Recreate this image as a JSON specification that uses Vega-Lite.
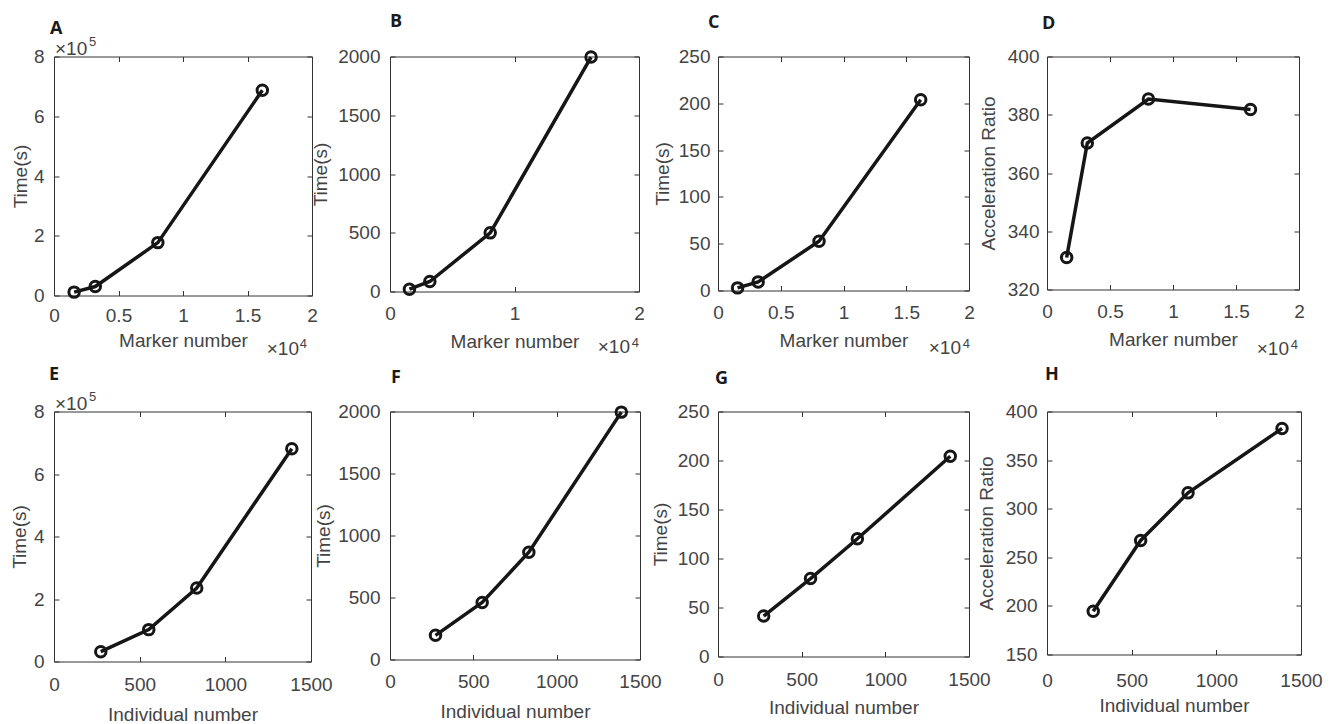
{
  "$schema": "https://vega.github.io/schema/vega-lite/v6.json",
  "padding": {"left": 9, "top": 12.5, "right": 0, "bottom": 0},
  "autosize": {"type": "pad"},
  "background": "white",
  "datasets": {
    "marker": [
      {"marker_number": 1560, "time_a": 11300, "time_b": 20, "time_c": 2.8, "accel_ratio": 331.0},
      {"marker_number": 3200, "time_a": 30000, "time_b": 85, "time_c": 9.2, "accel_ratio": 370.3},
      {"marker_number": 8050, "time_a": 177000, "time_b": 499, "time_c": 52.6, "accel_ratio": 385.4},
      {"marker_number": 16150, "time_a": 687000, "time_b": 1995, "time_c": 203.8, "accel_ratio": 381.8}
    ],
    "individual": [
      {"individual_number": 273, "time_e": 31400, "time_f": 195, "time_g": 41.3, "accel_ratio": 194.4},
      {"individual_number": 553, "time_e": 102000, "time_f": 460, "time_g": 79.5, "accel_ratio": 267.3},
      {"individual_number": 833, "time_e": 235000, "time_f": 865, "time_g": 120.1, "accel_ratio": 316.3},
      {"individual_number": 1388, "time_e": 681000, "time_f": 1995, "time_g": 204.3, "accel_ratio": 382.5}
    ]
  },
  "columns": 4,
  "bounds": "flush",
  "align": "none",
  "spacing": {"row": 116, "column": 78},
  "concat": [
    {
      "width": 258, "height": 239,
      "title": {"text": "A", "dx": -4, "offset": -2.5},
      "data": {"name": "marker"},
      "layer": [
        {"mark": {"type": "line", "color": "#161616", "strokeWidth": 3.5},
         "encoding": {
           "x": {"field": "marker_number", "type": "quantitative", "scale": {"domain": [0, 20000], "nice": false}, "axis": {"orient": "bottom", "values": [0, 5000, 10000, 15000, 20000], "labelExpr": "datum.value / 10000", "title": "Marker number", "labelPadding": 16, "titlePadding": 5.5}},
           "y": {"field": "time_a", "type": "quantitative", "scale": {"domain": [0, 800000], "nice": false}, "axis": {"orient": "left", "values": [0, 200000, 400000, 600000, 800000], "labelExpr": "datum.value / 100000", "title": "Time(s)", "labelPadding": 15, "titlePadding": 3}}}},
        {"mark": {"type": "point", "shape": "circle", "filled": false, "color": "#161616", "strokeWidth": 3, "size": 110, "opacity": 1},
         "encoding": {
           "x": {"field": "marker_number", "type": "quantitative", "scale": {"domain": [0, 20000], "nice": false}, "axis": {"orient": "top", "values": [0, 5000, 10000, 15000, 20000], "labels": false, "title": null}},
           "y": {"field": "time_a", "type": "quantitative", "scale": {"domain": [0, 800000], "nice": false}, "axis": {"orient": "right", "values": [0, 200000, 400000, 600000, 800000], "labels": false, "title": null}}}},
        {"data": {"values": [{}]},
         "mark": {"type": "text", "text": "×10", "align": "right", "baseline": "alphabetic", "dx": -13, "dy": 59, "fontSize": 19, "font": "Liberation Sans", "color": "#444"},
         "encoding": {"x": {"datum": 20000, "type": "quantitative", "axis": null}, "y": {"datum": 0, "type": "quantitative", "axis": null}}},
        {"data": {"values": [{}]},
         "mark": {"type": "text", "text": "4", "align": "right", "baseline": "alphabetic", "dx": -5, "dy": 52, "fontSize": 13, "font": "Liberation Sans", "color": "#444"},
         "encoding": {"x": {"datum": 20000, "type": "quantitative", "axis": null}, "y": {"datum": 0, "type": "quantitative", "axis": null}}},
        {"data": {"values": [{}]},
         "mark": {"type": "text", "text": "×10", "align": "left", "baseline": "alphabetic", "dx": 1, "dy": -2, "fontSize": 19, "font": "Liberation Sans", "color": "#444"},
         "encoding": {"x": {"datum": 0, "type": "quantitative", "axis": null}, "y": {"datum": 800000, "type": "quantitative", "axis": null}}},
        {"data": {"values": [{}]},
         "mark": {"type": "text", "text": "5", "align": "left", "baseline": "alphabetic", "dx": 35, "dy": -11, "fontSize": 13, "font": "Liberation Sans", "color": "#444"},
         "encoding": {"x": {"datum": 0, "type": "quantitative", "axis": null}, "y": {"datum": 800000, "type": "quantitative", "axis": null}}}
      ],
      "resolve": {"axis": {"x": "independent", "y": "independent"}}
    },
    {
      "width": 249, "height": 235,
      "title": {"text": "B", "dx": 0, "offset": 14.5},
      "data": {"name": "marker"},
      "layer": [
        {"mark": {"type": "line", "color": "#161616", "strokeWidth": 3.5},
         "encoding": {
           "x": {"field": "marker_number", "type": "quantitative", "scale": {"domain": [0, 20000], "nice": false}, "axis": {"orient": "bottom", "values": [0, 10000, 20000], "labelExpr": "datum.value / 10000", "title": "Marker number", "labelPadding": 17.5, "titlePadding": 9}},
           "y": {"field": "time_b", "type": "quantitative", "scale": {"domain": [0, 2000], "nice": false}, "axis": {"orient": "left", "values": [0, 500, 1000, 1500, 2000], "labelExpr": "datum.value", "title": "Time(s)", "labelPadding": 15, "titlePadding": 7}}}},
        {"mark": {"type": "point", "shape": "circle", "filled": false, "color": "#161616", "strokeWidth": 3, "size": 110, "opacity": 1},
         "encoding": {
           "x": {"field": "marker_number", "type": "quantitative", "scale": {"domain": [0, 20000], "nice": false}, "axis": {"orient": "top", "values": [0, 10000, 20000], "labels": false, "title": null}},
           "y": {"field": "time_b", "type": "quantitative", "scale": {"domain": [0, 2000], "nice": false}, "axis": {"orient": "right", "values": [0, 500, 1000, 1500, 2000], "labels": false, "title": null}}}},
        {"data": {"values": [{}]},
         "mark": {"type": "text", "text": "×10", "align": "right", "baseline": "alphabetic", "dx": -9, "dy": 61, "fontSize": 19, "font": "Liberation Sans", "color": "#444"},
         "encoding": {"x": {"datum": 20000, "type": "quantitative", "axis": null}, "y": {"datum": 0, "type": "quantitative", "axis": null}}},
        {"data": {"values": [{}]},
         "mark": {"type": "text", "text": "4", "align": "right", "baseline": "alphabetic", "dx": 0, "dy": 55, "fontSize": 13, "font": "Liberation Sans", "color": "#444"},
         "encoding": {"x": {"datum": 20000, "type": "quantitative", "axis": null}, "y": {"datum": 0, "type": "quantitative", "axis": null}}}
      ],
      "resolve": {"axis": {"x": "independent", "y": "independent"}}
    },
    {
      "width": 251, "height": 234,
      "title": {"text": "C", "dx": -10, "offset": 15.5},
      "data": {"name": "marker"},
      "layer": [
        {"mark": {"type": "line", "color": "#161616", "strokeWidth": 3.5},
         "encoding": {
           "x": {"field": "marker_number", "type": "quantitative", "scale": {"domain": [0, 20000], "nice": false}, "axis": {"orient": "bottom", "values": [0, 5000, 10000, 15000, 20000], "labelExpr": "datum.value / 10000", "title": "Marker number", "labelPadding": 18, "titlePadding": 9}},
           "y": {"field": "time_c", "type": "quantitative", "scale": {"domain": [0, 250], "nice": false}, "axis": {"orient": "left", "values": [0, 50, 100, 150, 200, 250], "labelExpr": "datum.value", "title": "Time(s)", "labelPadding": 13, "titlePadding": 6}}}},
        {"mark": {"type": "point", "shape": "circle", "filled": false, "color": "#161616", "strokeWidth": 3, "size": 110, "opacity": 1},
         "encoding": {
           "x": {"field": "marker_number", "type": "quantitative", "scale": {"domain": [0, 20000], "nice": false}, "axis": {"orient": "top", "values": [0, 5000, 10000, 15000, 20000], "labels": false, "title": null}},
           "y": {"field": "time_c", "type": "quantitative", "scale": {"domain": [0, 250], "nice": false}, "axis": {"orient": "right", "values": [0, 50, 100, 150, 200, 250], "labels": false, "title": null}}}},
        {"data": {"values": [{}]},
         "mark": {"type": "text", "text": "×10", "align": "right", "baseline": "alphabetic", "dx": -8, "dy": 63, "fontSize": 19, "font": "Liberation Sans", "color": "#444"},
         "encoding": {"x": {"datum": 20000, "type": "quantitative", "axis": null}, "y": {"datum": 0, "type": "quantitative", "axis": null}}},
        {"data": {"values": [{}]},
         "mark": {"type": "text", "text": "4", "align": "right", "baseline": "alphabetic", "dx": 1, "dy": 57, "fontSize": 13, "font": "Liberation Sans", "color": "#444"},
         "encoding": {"x": {"datum": 20000, "type": "quantitative", "axis": null}, "y": {"datum": 0, "type": "quantitative", "axis": null}}}
      ],
      "resolve": {"axis": {"x": "independent", "y": "independent"}}
    },
    {
      "width": 252, "height": 233,
      "title": {"text": "D", "dx": -5, "offset": 14.5},
      "data": {"name": "marker"},
      "layer": [
        {"mark": {"type": "line", "color": "#161616", "strokeWidth": 3.5},
         "encoding": {
           "x": {"field": "marker_number", "type": "quantitative", "scale": {"domain": [0, 20000], "nice": false}, "axis": {"orient": "bottom", "values": [0, 5000, 10000, 15000, 20000], "labelExpr": "datum.value / 10000", "title": "Marker number", "labelPadding": 18, "titlePadding": 9}},
           "y": {"field": "accel_ratio", "type": "quantitative", "scale": {"domain": [320, 400], "nice": false, "zero": false}, "axis": {"orient": "left", "values": [320, 340, 360, 380, 400], "labelExpr": "datum.value", "title": "Acceleration Ratio", "labelPadding": 13, "titlePadding": 9}}}},
        {"mark": {"type": "point", "shape": "circle", "filled": false, "color": "#161616", "strokeWidth": 3, "size": 110, "opacity": 1},
         "encoding": {
           "x": {"field": "marker_number", "type": "quantitative", "scale": {"domain": [0, 20000], "nice": false}, "axis": {"orient": "top", "values": [0, 5000, 10000, 15000, 20000], "labels": false, "title": null}},
           "y": {"field": "accel_ratio", "type": "quantitative", "scale": {"domain": [320, 400], "nice": false, "zero": false}, "axis": {"orient": "right", "values": [320, 340, 360, 380, 400], "labels": false, "title": null}}}},
        {"data": {"values": [{}]},
         "mark": {"type": "text", "text": "×10", "align": "right", "baseline": "alphabetic", "dx": -10, "dy": 65, "fontSize": 19, "font": "Liberation Sans", "color": "#444"},
         "encoding": {"x": {"datum": 20000, "type": "quantitative", "axis": null}, "y": {"datum": 320, "type": "quantitative", "axis": null}}},
        {"data": {"values": [{}]},
         "mark": {"type": "text", "text": "4", "align": "right", "baseline": "alphabetic", "dx": -1, "dy": 59, "fontSize": 13, "font": "Liberation Sans", "color": "#444"},
         "encoding": {"x": {"datum": 20000, "type": "quantitative", "axis": null}, "y": {"datum": 320, "type": "quantitative", "axis": null}}}
      ],
      "resolve": {"axis": {"x": "independent", "y": "independent"}}
    },
    {
      "width": 257, "height": 250,
      "title": {"text": "E", "dx": -5, "offset": 6.5},
      "data": {"name": "individual"},
      "layer": [
        {"mark": {"type": "line", "color": "#161616", "strokeWidth": 3.5},
         "encoding": {
           "x": {"field": "individual_number", "type": "quantitative", "scale": {"domain": [0, 1500], "nice": false}, "axis": {"orient": "bottom", "values": [0, 500, 1000, 1500], "labelExpr": "datum.value", "title": "Individual number", "labelPadding": 19, "titlePadding": 10.5}},
           "y": {"field": "time_e", "type": "quantitative", "scale": {"domain": [0, 800000], "nice": false}, "axis": {"orient": "left", "values": [0, 200000, 400000, 600000, 800000], "labelExpr": "datum.value / 100000", "title": "Time(s)", "labelPadding": 15, "titlePadding": 4}}}},
        {"mark": {"type": "point", "shape": "circle", "filled": false, "color": "#161616", "strokeWidth": 3, "size": 110, "opacity": 1},
         "encoding": {
           "x": {"field": "individual_number", "type": "quantitative", "scale": {"domain": [0, 1500], "nice": false}, "axis": {"orient": "top", "values": [0, 500, 1000, 1500], "labels": false, "title": null}},
           "y": {"field": "time_e", "type": "quantitative", "scale": {"domain": [0, 800000], "nice": false}, "axis": {"orient": "right", "values": [0, 200000, 400000, 600000, 800000], "labels": false, "title": null}}}},
        {"data": {"values": [{}]},
         "mark": {"type": "text", "text": "×10", "align": "left", "baseline": "alphabetic", "dx": 1, "dy": -2, "fontSize": 19, "font": "Liberation Sans", "color": "#444"},
         "encoding": {"x": {"datum": 0, "type": "quantitative", "axis": null}, "y": {"datum": 800000, "type": "quantitative", "axis": null}}},
        {"data": {"values": [{}]},
         "mark": {"type": "text", "text": "5", "align": "left", "baseline": "alphabetic", "dx": 35, "dy": -11, "fontSize": 13, "font": "Liberation Sans", "color": "#444"},
         "encoding": {"x": {"datum": 0, "type": "quantitative", "axis": null}, "y": {"datum": 800000, "type": "quantitative", "axis": null}}}
      ],
      "resolve": {"axis": {"x": "independent", "y": "independent"}}
    },
    {
      "width": 250, "height": 248,
      "title": {"text": "F", "dx": 1, "offset": 13.5},
      "data": {"name": "individual"},
      "layer": [
        {"mark": {"type": "line", "color": "#161616", "strokeWidth": 3.5},
         "encoding": {
           "x": {"field": "individual_number", "type": "quantitative", "scale": {"domain": [0, 1500], "nice": false}, "axis": {"orient": "bottom", "values": [0, 500, 1000, 1500], "labelExpr": "datum.value", "title": "Individual number", "labelPadding": 17.5, "titlePadding": 11}},
           "y": {"field": "time_f", "type": "quantitative", "scale": {"domain": [0, 2000], "nice": false}, "axis": {"orient": "left", "values": [0, 500, 1000, 1500, 2000], "labelExpr": "datum.value", "title": "Time(s)", "labelPadding": 15, "titlePadding": 4}}}},
        {"mark": {"type": "point", "shape": "circle", "filled": false, "color": "#161616", "strokeWidth": 3, "size": 110, "opacity": 1},
         "encoding": {
           "x": {"field": "individual_number", "type": "quantitative", "scale": {"domain": [0, 1500], "nice": false}, "axis": {"orient": "top", "values": [0, 500, 1000, 1500], "labels": false, "title": null}},
           "y": {"field": "time_f", "type": "quantitative", "scale": {"domain": [0, 2000], "nice": false}, "axis": {"orient": "right", "values": [0, 500, 1000, 1500, 2000], "labels": false, "title": null}}}}
      ],
      "resolve": {"axis": {"x": "independent", "y": "independent"}}
    },
    {
      "width": 251, "height": 245,
      "title": {"text": "G", "dx": -3, "offset": 14.5},
      "data": {"name": "individual"},
      "layer": [
        {"mark": {"type": "line", "color": "#161616", "strokeWidth": 3.5},
         "encoding": {
           "x": {"field": "individual_number", "type": "quantitative", "scale": {"domain": [0, 1500], "nice": false}, "axis": {"orient": "bottom", "values": [0, 500, 1000, 1500], "labelExpr": "datum.value", "title": "Individual number", "labelPadding": 19, "titlePadding": 9}},
           "y": {"field": "time_g", "type": "quantitative", "scale": {"domain": [0, 250], "nice": false}, "axis": {"orient": "left", "values": [0, 50, 100, 150, 200, 250], "labelExpr": "datum.value", "title": "Time(s)", "labelPadding": 14, "titlePadding": 7}}}},
        {"mark": {"type": "point", "shape": "circle", "filled": false, "color": "#161616", "strokeWidth": 3, "size": 110, "opacity": 1},
         "encoding": {
           "x": {"field": "individual_number", "type": "quantitative", "scale": {"domain": [0, 1500], "nice": false}, "axis": {"orient": "top", "values": [0, 500, 1000, 1500], "labels": false, "title": null}},
           "y": {"field": "time_g", "type": "quantitative", "scale": {"domain": [0, 250], "nice": false}, "axis": {"orient": "right", "values": [0, 50, 100, 150, 200, 250], "labels": false, "title": null}}}}
      ],
      "resolve": {"axis": {"x": "independent", "y": "independent"}}
    },
    {
      "width": 254, "height": 243,
      "title": {"text": "H", "dx": -2, "offset": 18.5},
      "data": {"name": "individual"},
      "layer": [
        {"mark": {"type": "line", "color": "#161616", "strokeWidth": 3.5},
         "encoding": {
           "x": {"field": "individual_number", "type": "quantitative", "scale": {"domain": [0, 1500], "nice": false}, "axis": {"orient": "bottom", "values": [0, 500, 1000, 1500], "labelExpr": "datum.value", "title": "Individual number", "labelPadding": 22, "titlePadding": 5.5}},
           "y": {"field": "accel_ratio", "type": "quantitative", "scale": {"domain": [150, 400], "nice": false, "zero": false}, "axis": {"orient": "left", "values": [150, 200, 250, 300, 350, 400], "labelExpr": "datum.value", "title": "Acceleration Ratio", "labelPadding": 15, "titlePadding": 9}}}},
        {"mark": {"type": "point", "shape": "circle", "filled": false, "color": "#161616", "strokeWidth": 3, "size": 110, "opacity": 1},
         "encoding": {
           "x": {"field": "individual_number", "type": "quantitative", "scale": {"domain": [0, 1500], "nice": false}, "axis": {"orient": "top", "values": [0, 500, 1000, 1500], "labels": false, "title": null}},
           "y": {"field": "accel_ratio", "type": "quantitative", "scale": {"domain": [150, 400], "nice": false, "zero": false}, "axis": {"orient": "right", "values": [150, 200, 250, 300, 350, 400], "labels": false, "title": null}}}}
      ],
      "resolve": {"axis": {"x": "independent", "y": "independent"}}
    }
  ],
  "config": {
    "view": {"stroke": "#333", "strokeWidth": 1},
    "axis": {"grid": false, "domain": false, "ticks": true, "tickColor": "#333", "tickSize": -5, "tickWidth": 1, "labelFont": "Liberation Sans", "labelFontSize": 19, "labelColor": "#444", "labelFlush": false, "labelOverlap": false, "titleFont": "Liberation Sans", "titleFontSize": 19, "titleFontWeight": "normal", "titleColor": "#444"},
    "title": {"font": "Open Sans", "fontSize": 18, "fontWeight": "bold", "color": "#1a1a1a", "anchor": "start", "frame": "group"}
  }
}
